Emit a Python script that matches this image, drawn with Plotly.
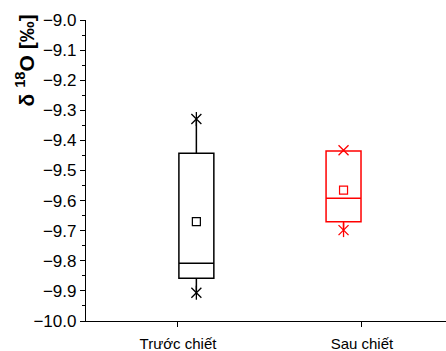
import plotly.graph_objects as go

categories = ["Trước chiết", "Sau chiết"]
q1 = [-9.858, -9.670]
median = [-9.808, -9.592]
q3 = [-9.443, -9.435]
lower = [-9.906, -9.698]
upper = [-9.329, -9.435]
mean = [-9.670, -9.565]
vmin = [-9.906, -9.698]
vmax = [-9.329, -9.433]
colors = ["black", "#ff0000"]
max_symbols = ["asterisk", "x"]

offsets = [0.1, -0.1]
fig = go.Figure()
for i, cat in enumerate(categories):
    xc = i + 1 + offsets[i]
    c = colors[i]
    fig.add_trace(go.Box(
        x=[xc], q1=[q1[i]], median=[median[i]], q3=[q3[i]],
        lowerfence=[lower[i]], upperfence=[upper[i]],
        width=0.19, whiskerwidth=0, line=dict(color=c, width=1.5),
        fillcolor="rgba(0,0,0,0)", boxpoints=False, showlegend=False))
    fig.add_trace(go.Scatter(
        x=[xc], y=[mean[i]], mode="markers", showlegend=False,
        marker=dict(symbol="square-open", size=8, color=c, line=dict(width=1.2, color=c))))
    for sym in ["x-thin-open", "line-ns-open"]:
        fig.add_trace(go.Scatter(
            x=[xc], y=[vmin[i]], mode="markers", showlegend=False,
            marker=dict(symbol=sym, size=10, color=c, line=dict(width=1.3, color=c))))
    syms = ["x-thin-open", "line-ns-open"] if max_symbols[i] == "asterisk" else ["x-thin-open"]
    for sym in syms:
        fig.add_trace(go.Scatter(
            x=[xc], y=[vmax[i]], mode="markers", showlegend=False,
            marker=dict(symbol=sym, size=10, color=c, line=dict(width=1.3, color=c))))

fig.update_layout(
    width=446, height=351,
    margin=dict(l=86, r=0, t=20, b=30),
    plot_bgcolor="white", paper_bgcolor="white",
    font=dict(family="Liberation Sans, Arial", color="black"),
    xaxis=dict(range=[0.5, 2.457], tickvals=[1, 2], ticktext=categories,
               showline=True, linecolor="black", linewidth=1.3,
               ticks="outside", ticklen=5, tickwidth=1.3, tickcolor="black",
               ticklabelstandoff=4,
               showgrid=False, zeroline=False, tickfont=dict(size=15)),
    yaxis=dict(range=[-10, -9], dtick=0.1, tick0=-10, tickformat=".1f",
               showline=True, linecolor="black", linewidth=1.3,
               ticks="outside", ticklen=5, tickwidth=1.3, tickcolor="black",
               minor=dict(dtick=0.05, ticks="outside", ticklen=3, tickwidth=1.3, tickcolor="black"),
               showgrid=False, zeroline=False, tickfont=dict(size=17)),
    annotations=[dict(text="<b>δ <sup>18</sup>O [‰]</b>", textangle=-90,
                      xref="paper", yref="paper", x=-0.17, y=0.865,
                      xanchor="center", yanchor="middle", showarrow=False,
                      font=dict(size=21))],
)
fig.write_html("out.html", config={"displayModeBar": False},
               post_script="document.body.style.margin='0';document.body.style.padding='0';")
